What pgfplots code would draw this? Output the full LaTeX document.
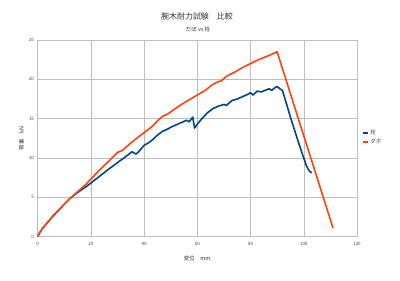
\documentclass[border=0pt]{standalone}
\usepackage{fontspec}
\setmainfont{Noto Sans CJK JP}
\usepackage{pgfplots}
\pgfplotsset{compat=1.18}
\definecolor{sen}{HTML}{004586}
\definecolor{dabo}{HTML}{FF420E}
\definecolor{gridc}{HTML}{BDBDBD}
\begin{document}
\begin{tikzpicture}
\path[use as bounding box] (0bp,0bp) rectangle (400bp,281bp);
\node[font=\fontsize{8}{9}\selectfont, color=black!80] at (197bp,265bp) {腕木耐力試験　比較};
\node[font=\fontsize{5.5}{6}\selectfont, color=black!80] at (198bp,252bp) {だぼ vs 栓};
\begin{axis}[
  at={(37.5bp,44.3bp)}, anchor=south west, scale only axis,
  width=319.5bp, height=196.7bp,
  xmin=0, xmax=120, ymin=0, ymax=25,
  xtick={0,20,...,120}, ytick={0,5,...,25},
  grid=major, major grid style={gridc, line width=0.5bp},
  axis line style={gridc, line width=0.5bp},
  tick style={draw=none},
  tick label style={font=\fontsize{4.5}{5}\selectfont, color=black!75},
  xticklabel style={yshift=-2.5bp},
  /pgf/number format/assume math mode=true,
  xlabel={変位　mm}, ylabel={荷重　kN},
  label style={font=\fontsize{5.5}{6}\selectfont, color=black!80},
  xlabel style={yshift=-3bp},
  ylabel style={yshift=-2bp},
  legend style={draw=none, fill=none, at={(1.005,0.565)}, anchor=north west,
    font=\fontsize{5.5}{6}\selectfont, text=black!75, row sep=-1bp},
  legend cell align=left,
  legend image code/.code={\draw[#1, line width=1.6bp] (0bp,0bp) -- (5bp,0bp);},
]
\addplot[sen, line width=1.6bp, line join=round] coordinates {
(0,0) (1,0.6) (2,1.1) (4,1.9) (6,2.7) (8,3.4) (10,4.1) (12,4.8) (15,5.6) (18,6.3) (20,6.8)
(23,7.6) (26,8.4) (28,8.9) (30,9.4) (32,9.9) (34,10.4) (35.5,10.8)
(37,10.5) (38,10.8) (40,11.6) (42,12.0) (43.5,12.4) (45,12.9) (47,13.4)
(49,13.7) (50,13.9) (52,14.2) (54,14.5) (56,14.8) (57,14.6) (58.3,15.2)
(59,13.8) (60,14.3) (62,15.1) (64,15.8) (66,16.3) (68,16.6) (70,16.8)
(71,16.7) (73,17.3) (75,17.5) (77,17.8) (79,18.1) (80,18.3) (81,18.0)
(82.5,18.5) (84,18.4) (85.5,18.6) (87,18.8) (88,18.6) (89,18.9) (90,19.1)
(91,18.8) (92,18.6) (95,15.2) (98,12.0) (101,9.0) (102,8.4) (103,8.1)
};
\addlegendentry{栓}
\addplot[dabo, line width=1.6bp, line join=round] coordinates {
(0,0) (1,0.6) (2,1.1) (4,1.9) (6,2.7) (8,3.4) (10,4.1) (12,4.8) (15,5.7) (18,6.6) (20,7.3)
(24,8.7) (28,10.0) (30,10.7) (32,11.0) (35,11.9) (38,12.7) (40,13.2)
(43,14.0) (45,14.7) (47,15.3) (49,15.6) (51,16.1) (54,16.8) (57,17.4)
(60,18.0) (63,18.6) (66,19.4) (68,19.7) (69,19.8) (71,20.4) (74,20.9)
(77,21.5) (80,22.0) (83,22.5) (86,22.9) (88,23.2) (90,23.5) (111,1.1)
};
\addlegendentry{ダボ}
\end{axis}
\end{tikzpicture}
\end{document}
